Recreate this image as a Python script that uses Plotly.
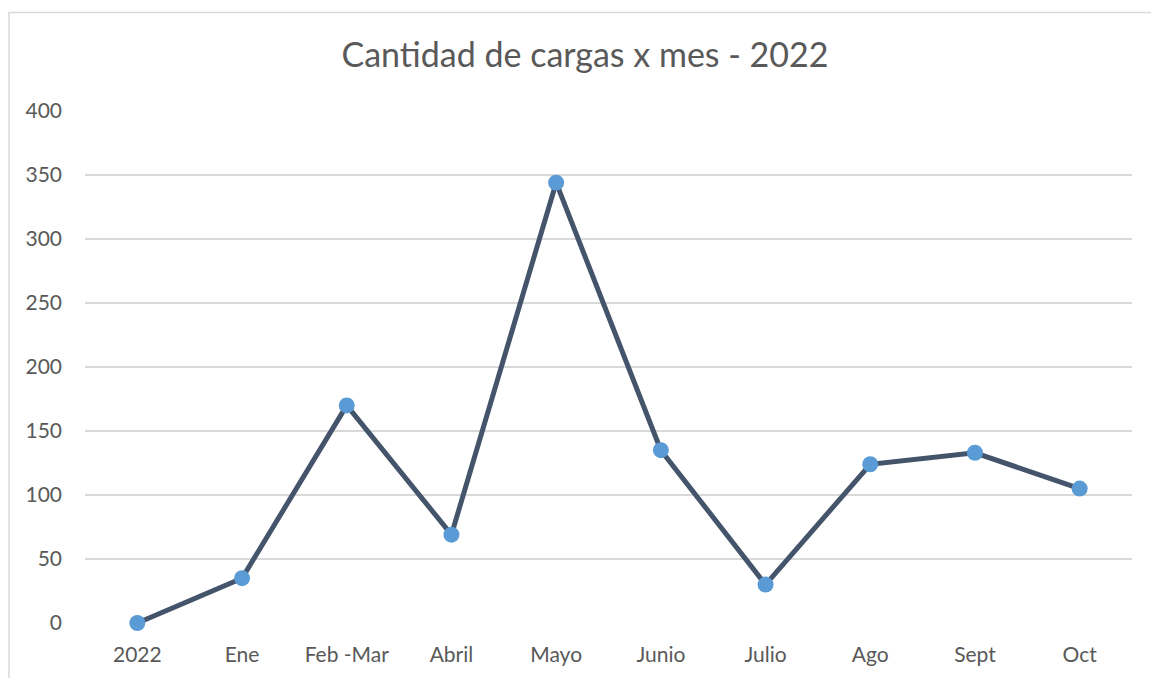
import plotly.graph_objects as go

categories = ["2022", "Ene", "Feb -Mar", "Abril", "Mayo", "Junio", "Julio", "Ago", "Sept", "Oct"]
cargas = [0, 35, 170, 69, 344, 135, 30, 124, 133, 105]
y_ticks = [0, 50, 100, 150, 200, 250, 300, 350, 400]

W, H = 1151, 678
L, R, T, B = 85, 19, 111, 55

fig = go.Figure()
fig.add_trace(go.Scatter(
    x=categories, y=cargas, mode="lines+markers",
    line=dict(color="#44546a", width=5),
    marker=dict(color="#5b9bd5", size=16, line=dict(width=0)),
    cliponaxis=False, showlegend=False,
))

pw, ph = W - L - R, H - T - B
def px(x):
    return (x - L) / pw
def py(y):
    return (H - B - y) / ph

fig.add_shape(type="rect", xref="paper", yref="paper",
              x0=px(9), x1=px(1160), y0=py(690), y1=py(12.5),
              line=dict(color="#d9d9d9", width=1.5), fillcolor="rgba(0,0,0,0)", layer="below")

fig.update_layout(
    width=W, height=H,
    margin=dict(l=L, r=R, t=T, b=B),
    paper_bgcolor="white", plot_bgcolor="white",
    font=dict(family="Lato", color="#595959"),
    title=dict(text="Cantidad de cargas x mes - 2022", x=585 / W, xref="container",
               xanchor="center", y=1 - 55 / H, yanchor="middle", yref="container",
               font=dict(size=34, color="#595959", family="Lato")),
)
fig.update_xaxes(type="category", range=[-0.5, len(categories) - 0.5],
                 showgrid=False, showline=False, zeroline=False,
                 ticks="", tickfont=dict(size=21, color="#595959"), ticklabelstandoff=17)
fig.update_yaxes(range=[0, 400], tickvals=y_ticks, showgrid=True, gridcolor="#d9d9d9",
                 gridwidth=1.5, zeroline=False, showline=False, ticks="",
                 tickfont=dict(size=21, color="#595959"), ticklabelstandoff=22)

fig.write_html("out.html", config={"displayModeBar": False},
               post_script="document.body.style.margin='0px';")
